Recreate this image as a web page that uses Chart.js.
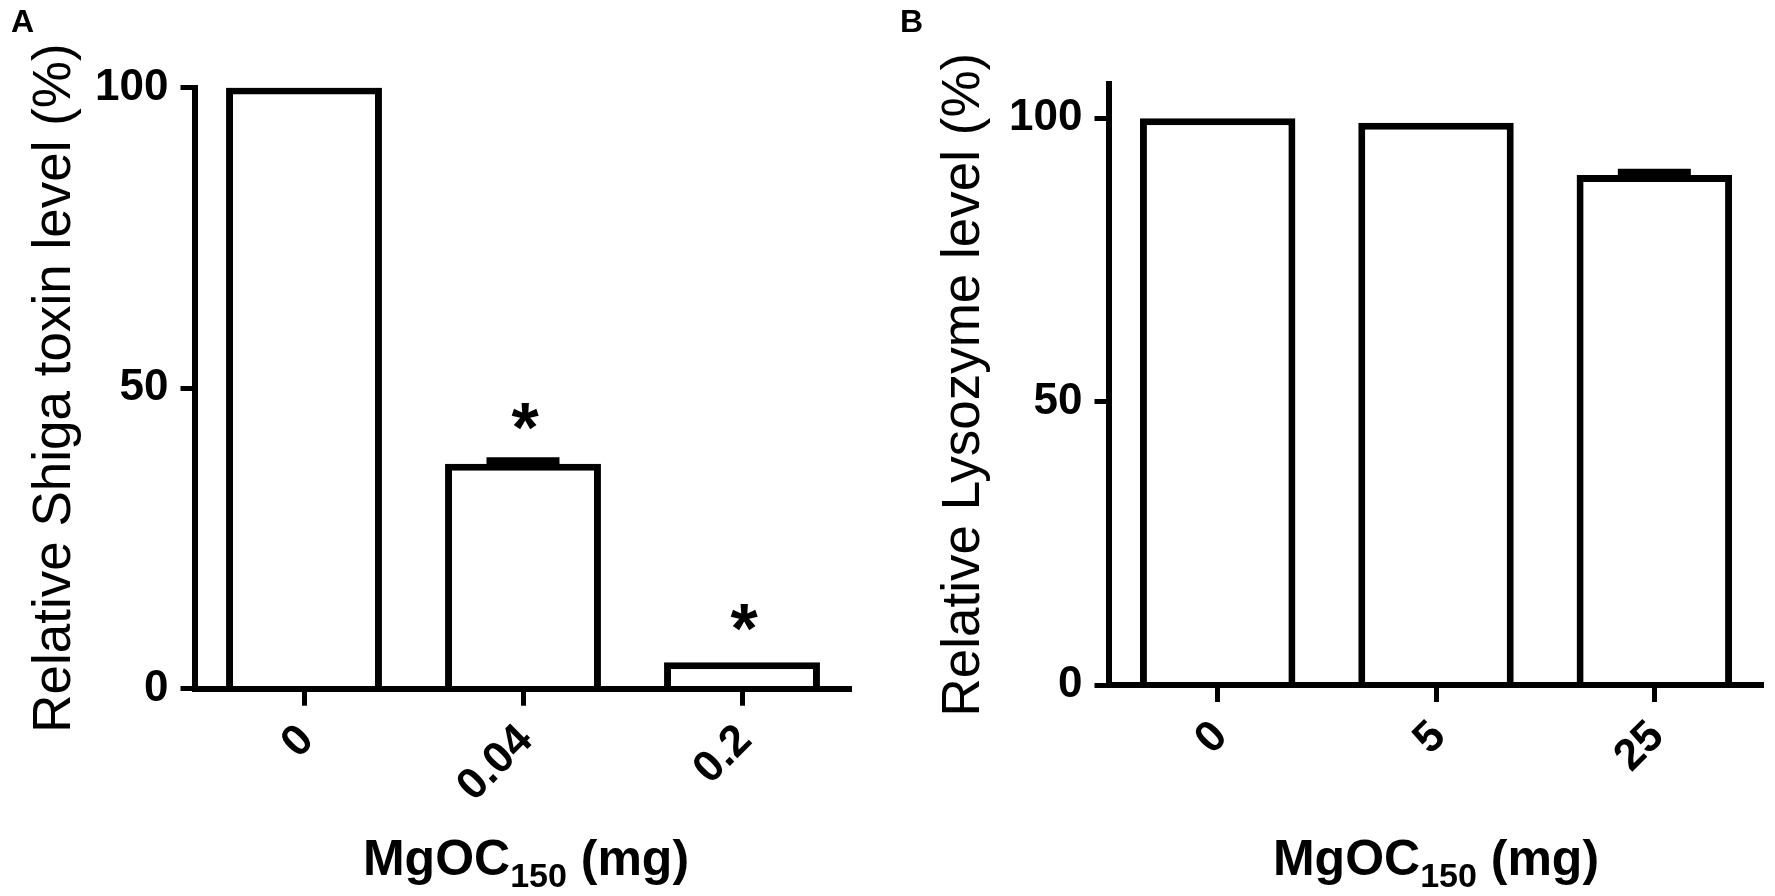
<!DOCTYPE html>
<html>
<head>
<meta charset="utf-8">
<title>MgOC150 - Shiga toxin / Lysozyme</title>
<script src="https://cdn.jsdelivr.net/npm/chart.js@4.4.1/dist/chart.umd.min.js"></script>
<style>
  html, body { margin: 0; padding: 0; background: #fff; }
  body { width: 1775px; height: 896px; position: relative; overflow: hidden; }
  .panel { position: absolute; top: 0; height: 896px; }
  #panelA { left: 0; width: 880px; }
  #panelB { left: 880px; width: 895px; }
</style>
</head>
<body>
<div class="panel" id="panelA"><canvas id="chartA" width="880" height="896"></canvas></div>
<div class="panel" id="panelB"><canvas id="chartB" width="895" height="896"></canvas></div>
<script>
// Panel A: toxina Shiga
const dosesA = ["0", "0.04", "0.2"];
const shigaLevel = [100, 37.4, 4.4];
const shigaErr = [0, 0.5, 0];
const shigaSig = ["", "*", "*"];

// Panel B: lisozima
const dosesB = ["0", "5", "25"];
const lysozymeLevel = [100, 99.2, 90.0];
const lysozymeErr = [0, 0, 0.5];
const lysozymeSig = ["", "", ""];

const yTicks = [0, 50, 100];

const FONT = '"Liberation Sans", Arial, Helvetica, sans-serif';
Chart.defaults.font.family = FONT;
Chart.defaults.color = "#000";

// barras de error, asteriscos, titulo X con subindice y letra del panel
const extrasPlugin = {
  id: "extras",
  afterDatasetsDraw(chart, args, opts) {
    const ctx = chart.ctx;
    const y = chart.scales.y;
    const values = chart.data.datasets[0].data;
    const bars = chart.getDatasetMeta(0).data;
    ctx.save();
    ctx.strokeStyle = "#000";
    ctx.fillStyle = "#000";
    ctx.lineWidth = 7;
    bars.forEach((bar, i) => {
      const top = y.getPixelForValue(values[i] + opts.err[i]);
      if (opts.err[i] > 0) {
        ctx.beginPath();
        ctx.moveTo(bar.x, y.getPixelForValue(values[i]));
        ctx.lineTo(bar.x, top);
        ctx.moveTo(bar.x - 36.5, top);
        ctx.lineTo(bar.x + 36.5, top);
        ctx.stroke();
      }
      if (opts.sig[i]) {
        ctx.font = "bold 70px " + FONT;
        ctx.textAlign = "center";
        ctx.textBaseline = "alphabetic";
        ctx.fillText(opts.sig[i], bar.x + 2, top - 49 + 40);
      }
    });
    ctx.restore();
  },
  afterDraw(chart, args, opts) {
    const ctx = chart.ctx;
    const area = chart.chartArea;
    ctx.save();
    ctx.fillStyle = "#000";
    ctx.textBaseline = "alphabetic";
    ctx.textAlign = "left";

    // titulo del eje X: MgOC150 (mg)
    const big = "bold 50px " + FONT;
    const small = "bold 34px " + FONT;
    ctx.font = big;
    const w1 = ctx.measureText("MgOC").width;
    const w3 = ctx.measureText(" (mg)").width;
    ctx.font = small;
    const w2 = ctx.measureText("150").width;
    let x = (area.left + area.right) / 2 + opts.titleShift - (w1 + w2 + w3) / 2;
    const base = 875;
    ctx.font = big;
    ctx.fillText("MgOC", x, base);
    x += w1;
    ctx.font = small;
    ctx.fillText("150", x, base + 12);
    x += w2;
    ctx.font = big;
    ctx.fillText(" (mg)", x, base);

    // letra del panel
    ctx.font = "bold 32px " + FONT;
    ctx.fillText(opts.letter, opts.letterX, 32);
    ctx.restore();
  }
};

function makeChart(canvasId, labels, values, cfg) {
  const ctx = document.getElementById(canvasId).getContext("2d");
  return new Chart(ctx, {
    type: "bar",
    data: {
      labels: labels,
      datasets: [{
        data: values,
        backgroundColor: "#fff",
        borderColor: "#000",
        borderWidth: 7,
        borderSkipped: "start",
        categoryPercentage: 1,
        barPercentage: 0.712
      }]
    },
    options: {
      responsive: false,
      animation: false,
      devicePixelRatio: 1,
      layout: {
        padding: { left: 0, top: cfg.top, right: cfg.right, bottom: 0 }
      },
      plugins: {
        legend: { display: false },
        tooltip: { enabled: false },
        extras: {
          err: cfg.err,
          sig: cfg.sig,
          letter: cfg.letter,
          letterX: cfg.letterX,
          titleShift: cfg.titleShift
        }
      },
      scales: {
        x: {
          offset: true,
          grid: {
            display: true,
            offset: false,
            drawOnChartArea: false,
            drawTicks: true,
            tickLength: 17,
            tickWidth: 5,
            color: "#000"
          },
          border: { display: true, color: "#000", width: 6, z: 1 },
          ticks: {
            minRotation: 45,
            maxRotation: 45,
            padding: 9,
            labelOffset: 3,
            color: "#000",
            font: { size: 44, weight: "bold" }
          },
          afterFit(scale) {
            scale.height = cfg.xHeight;
          }
        },
        y: {
          min: 0,
          max: cfg.max,
          afterBuildTicks(scale) {
            scale.ticks = yTicks.map((v) => ({ value: v }));
          },
          grid: {
            display: true,
            drawOnChartArea: false,
            drawTicks: true,
            tickLength: 14,
            tickWidth: 5,
            color: "#000"
          },
          border: { display: true, color: "#000", width: 6, z: 1 },
          ticks: {
            padding: 12,
            color: "#000",
            font: { size: 44, weight: "bold" }
          },
          title: {
            display: true,
            text: cfg.yTitle,
            color: "#000",
            font: { size: 53, weight: "normal" },
            padding: { top: cfg.yTitlePad, bottom: 0 }
          },
          afterFit(scale) {
            scale.width = cfg.yWidth;
          }
        }
      }
    },
    plugins: [extrasPlugin]
  });
}

makeChart("chartA", dosesA, shigaLevel, {
  err: shigaErr,
  sig: shigaSig,
  letter: "A",
  letterX: 11,
  titleShift: 3,
  max: 100,
  top: 87.5,
  right: 28.5,
  xHeight: 207.3,
  yWidth: 194.5,
  yTitle: "Relative Shiga toxin level (%)",
  yTitlePad: 24
});

makeChart("chartB", dosesB, lysozymeLevel, {
  err: lysozymeErr,
  sig: lysozymeSig,
  letter: "B",
  letterX: 20,
  titleShift: 0,
  max: 106,
  top: 84.3,
  right: 11.5,
  xHeight: 211,
  yWidth: 228.5,
  yTitle: "Relative Lysozyme level (%)",
  yTitlePad: 53
});
</script>
</body>
</html>
